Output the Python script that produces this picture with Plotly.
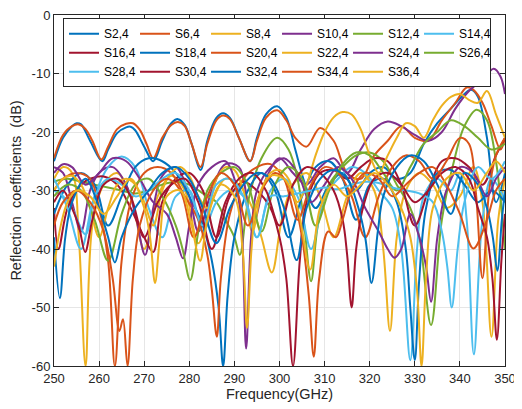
import plotly.graph_objects as go

# ---------------- data ----------------
names = ["S2,4", "S6,4", "S8,4", "S10,4", "S12,4", "S14,4", "S16,4", "S18,4", "S20,4",
         "S22,4", "S24,4", "S26,4", "S28,4", "S30,4", "S32,4", "S34,4", "S36,4"]

x_ticks = [250, 260, 270, 280, 290, 300, 310, 320, 330, 340, 350]
y_ticks = [0, -10, -20, -30, -40, -50, -60]

f_S2_4 = [250, 252, 254, 255, 256, 258, 260.7, 262, 264, 266, 267, 268, 270, 272, 274, 276, 277.5, 279, 280.5, 282.5, 284, 286, 287.5, 289, 291, 293.5, 295, 297, 299.5, 301.5, 303.5, 305.5, 308, 311, 314, 317, 320, 323, 326, 329, 332, 335, 338, 341, 342.5, 344, 346, 348, 350]
r_S2_4 = [-25, -21, -19, -18.5, -18.7, -21.5, -25, -23, -20.2, -19.2, -19.1, -19.7, -22.5, -25, -21.5, -18.5, -17.8, -18.8, -22, -26.5, -21.5, -17.6, -16.8, -17.6, -21, -25, -21, -17, -15.6, -17.5, -23, -28.5, -33, -29, -27, -30, -27, -26, -28, -27, -22, -18.5, -16, -13.5, -12.8, -14, -21, -32, -27]

f_S6_4 = [250, 252, 254, 255.5, 257, 258.5, 260.5, 262, 264, 266, 267.5, 269, 270.5, 272, 274, 276, 277.5, 279, 280.5, 282.5, 284, 286, 287.5, 289, 291, 293.5, 295, 297, 299.5, 301.5, 303.5, 306, 309, 312, 315, 318, 321, 324, 327, 330, 333, 336, 339, 341.5, 343, 345, 347, 349, 350]
r_S6_4 = [-24.5, -20.5, -19, -18.7, -19.5, -21.5, -24.7, -22.5, -19.5, -18.6, -18.5, -19.6, -22, -24.5, -21, -18.8, -18.3, -19, -22, -26, -22, -18, -17.2, -17.8, -21, -25, -21.5, -17.6, -16.3, -18, -21, -22.5, -19.3, -21.5, -27, -28, -24, -21.5, -19, -21, -21.5, -18, -15, -12.4, -12.8, -15, -19, -23, -21]

f_S8_4 = [250, 252, 254, 255.5, 257, 258.5, 261, 264, 267, 270, 273, 276, 279, 282, 285, 288, 291, 294, 296, 298.3, 300.5, 303, 306, 309, 312, 315, 318, 321, 323, 324.5, 326, 328, 331, 334, 337, 340, 343, 345, 347, 348.5, 350]
r_S8_4 = [-28, -26, -27, -38, -60, -36, -29, -27, -31, -40, -31, -27.5, -30, -39, -32, -28, -29, -33, -38, -44, -35, -29, -27, -31, -38, -31, -27, -30, -40, -54, -38, -30, -27, -29, -33, -31, -26, -32, -55, -35, -28]

f_S10_4 = [250, 252, 254, 256, 258, 260, 263, 266, 268, 270.2, 272, 274, 277, 280, 282, 285, 288, 291, 294, 297, 300, 303, 306, 309, 312, 315, 318, 321, 324, 327, 330, 333, 336, 339, 342, 345, 347.5, 349, 350]
r_S10_4 = [-26, -27, -32, -37, -30, -27, -26, -29, -34, -41, -33, -27.5, -26, -31, -37, -30, -25.5, -26, -36, -28, -24.5, -27, -29, -26, -24.5, -27, -23, -19.5, -18.2, -19, -20.5, -21.5, -20, -16, -13, -11, -9.2, -10.5, -13.5]

f_S12_4 = [250, 253, 256, 259, 262, 265, 268, 271, 274, 277, 280, 283, 286, 288, 290, 291.2, 293, 296, 299.5, 302, 304, 305.5, 307, 308.5, 311, 314, 317, 320, 323, 326, 329, 331, 333.6, 336, 339, 341, 343.7, 346, 348, 350]
r_S12_4 = [-28.5, -28, -28.5, -29, -29.5, -30, -30.5, -30, -29, -28.5, -29, -30.5, -32, -35, -38, -41, -32, -24.5, -21, -23, -28, -36, -45.5, -36, -29, -26, -24, -23.5, -25, -29, -33, -38, -53, -35, -24, -19, -16.2, -18, -25, -40]

f_S14_4 = [250, 252, 254, 257, 259, 262, 265, 268, 271, 274, 277, 280, 283, 286, 289, 292, 295, 298, 301, 304, 307, 310, 313, 316, 319, 322, 325, 327, 329, 330.5, 332, 335, 338, 340, 341.5, 343.1, 345, 347, 349, 350]
r_S14_4 = [-30, -31, -33, -37.5, -31, -26, -24.2, -26, -33, -38, -31, -30, -37, -32, -30, -31, -38, -30, -28, -31, -40, -31, -28, -26, -27, -30, -33, -40, -59, -40, -31, -28, -30, -27, -35, -58, -35, -28, -30, -32]

f_S16_4 = [250, 251, 253, 256, 258, 261, 264, 267, 270, 272, 274, 277, 280, 283, 286, 289, 292, 295, 298, 300, 301.5, 303, 304.5, 306, 309, 312, 315, 318, 321, 324, 327, 330, 333, 336, 339, 342, 345, 348, 350]
r_S16_4 = [-33, -40, -33, -29, -28, -27.6, -29, -33, -38, -40.5, -32, -28, -27, -30, -38, -31, -28.5, -30, -33, -38, -45, -60, -42, -32, -27, -26.5, -28, -26, -24.5, -25, -29, -36, -30, -25, -24.5, -26, -29, -24, -21]

f_S18_4 = [250, 253, 256, 259, 262, 265, 268, 271, 274, 277, 280, 283, 285, 286.5, 287.5, 288.5, 290, 293, 296, 299, 302, 305, 308, 311, 314, 317, 320, 323, 326, 328, 329, 330, 331, 332.5, 335, 338, 341, 344, 347, 350]
r_S18_4 = [-34, -29, -27, -29, -36, -31, -26, -24.5, -25, -27, -31, -36, -42, -50, -60, -48, -38, -30, -27, -30, -38, -31, -26, -25, -28, -35, -29, -28, -32, -40, -50, -59, -45, -33, -27, -26.5, -29, -32, -30, -32]

f_S20_4 = [250, 252, 255, 258, 260, 262, 263.5, 265, 267, 270, 273, 276, 279, 282, 284, 285, 286.1, 287, 289, 292, 295, 298, 301, 304, 307, 310, 313, 316, 319, 322, 325, 328, 331, 334, 337, 340, 342, 343.5, 345, 346.5, 348, 350]
r_S20_4 = [-30, -28, -27, -28, -33, -42, -60, -42, -32, -27, -26, -27, -31, -35, -41, -47, -55, -45, -34, -28, -26, -25.5, -28, -35, -29, -26, -27, -31, -38, -31, -26, -24, -25, -28, -25, -21, -22, -30, -45, -30, -24, -21]

f_S22_4 = [250, 252, 254, 256, 258, 260, 262, 264, 266, 268, 270, 272, 274, 276, 278, 280, 282, 284, 286, 288, 290, 292, 294, 296, 298, 300, 302, 304, 306, 308, 310, 312, 314, 316, 318, 320, 322, 324, 326, 328, 330, 332, 334, 336, 338, 340, 342, 344, 346, 348, 350]
r_S22_4 = [-30, -28, -27.5, -29, -33, -38, -33, -29, -28, -29, -32, -36, -30, -27, -26, -27.5, -31, -33, -28, -26, -26.5, -30, -37, -30, -27, -26.5, -28, -32, -29, -24, -20, -17.5, -16.6, -17, -19.5, -24, -27, -24, -21, -18.5, -19, -21, -18, -15.5, -14, -13.5, -14.5, -15, -13, -17, -21]

f_S24_4 = [250, 252, 254, 257, 260, 263, 266, 269, 272, 275, 277, 278.6, 280, 282, 285, 288, 290, 291.5, 292.6, 293.7, 295, 298, 301, 304, 307, 310, 313, 316, 319, 322, 324, 325.5, 327, 329, 331, 332.5, 333.6, 335, 337, 340, 343, 346, 348, 350]
r_S24_4 = [-27, -25.5, -26, -29, -27, -24.5, -25, -28, -32, -34, -38, -41.6, -36, -29, -26, -25, -28, -35, -57, -38, -30, -26, -24.5, -27, -32, -29, -26, -28, -33, -37, -40, -41.5, -40, -34, -38, -43, -49, -38, -30, -26, -27, -31, -28, -26]

f_S26_4 = [250, 253, 256, 259, 262, 265, 268, 271, 274, 277, 278.5, 280.2, 282, 284, 287, 290, 293, 296, 299, 302, 305, 308, 311, 314, 317, 320, 323, 326, 329, 332, 335, 338, 341, 344, 347, 350]
r_S26_4 = [-31, -29, -30, -35, -42, -34, -29, -28, -31, -36, -40, -45.3, -37, -30, -27, -26, -29, -37, -29, -26, -28, -36, -30, -25.5, -23.5, -24, -27, -30, -26, -22, -20, -18, -19, -21, -23, -22]

f_S28_4 = [250, 253, 256, 259, 262, 265, 268, 271, 274, 277, 280, 283, 286, 289, 292, 295, 298, 301, 304, 307, 310, 313, 316, 319, 322, 325, 328, 331, 334, 336, 337.2, 338.2, 339.5, 341, 344, 347, 350]
r_S28_4 = [-28, -33, -40, -31, -28, -29, -31, -30, -28, -27, -30, -36, -29, -28, -31, -38, -31, -31, -30.5, -30, -29.5, -29.8, -29, -28.5, -28.7, -29.5, -30, -30.5, -32, -37, -43, -50, -40, -32, -26, -28, -25]

f_S30_4 = [250, 252, 254, 255.5, 256.9, 258.5, 261, 264, 267, 270, 273, 276, 279, 282, 285, 288, 291, 294, 297, 300, 303, 306, 309, 312, 314, 315, 316, 317, 318.5, 321, 324, 327, 330, 333, 336, 339, 342, 344, 346, 347.2, 348.2, 349.2, 350]
r_S30_4 = [-32, -30, -33, -36, -40.5, -35, -29, -28, -31, -38, -32, -29, -28, -32, -40, -32, -28, -27, -30, -36, -29, -26, -27, -30, -35, -41, -50, -40, -33, -28, -27, -29, -32, -30, -27, -26, -28, -33, -38, -45, -55.5, -42, -34]

f_S32_4 = [250, 251.3, 252.5, 254, 257, 260, 262, 263.5, 265, 268, 271, 274, 277, 280, 283, 286, 289, 292, 295, 298, 301, 303.8, 306, 309, 312, 315, 317.5, 319, 320.4, 321.8, 323, 326, 329, 332, 335, 338, 341, 344, 346, 347.3, 348.3, 349.3, 350]
r_S32_4 = [-38, -48.4, -38, -32, -28, -33, -38, -42.3, -38, -33, -30, -27, -26, -28, -33, -39, -33, -29, -27, -28, -33, -41.9, -33, -28, -26.5, -28, -33, -38, -45.8, -37, -31, -26, -24, -25, -29, -34, -27, -29, -33, -38, -43.7, -35, -30]

f_S34_4 = [250, 252, 255, 258, 261, 263, 264.5, 265.3, 266.3, 267.5, 269, 272, 275, 278, 281, 284, 287, 290, 293, 296, 299, 301, 303, 305, 306.5, 307.6, 308.8, 310.8, 312.5, 314, 316, 319, 322, 325, 328, 331, 334, 337, 340, 343, 346, 348, 350]
r_S34_4 = [-36, -32, -30, -32, -37, -45, -54, -52, -60, -45, -36, -30, -28, -30, -38, -31, -27, -29, -36, -30, -27, -28, -31, -38, -48, -58.4, -45, -37, -38, -35, -30, -27, -28, -31, -29, -27, -26, -29, -34, -39.9, -35, -30, -28]

f_S36_4 = [250, 251.5, 253, 255, 258, 261, 264, 267, 270, 271.3, 272.4, 273.5, 275, 278, 280.5, 282.4, 284, 287, 290, 291.8, 292.8, 293.8, 295, 298, 301, 304, 306.8, 309, 312, 315, 318, 321, 324, 327, 329, 330.5, 331.5, 332.5, 334, 337, 340, 343, 346, 348, 350]
r_S36_4 = [-43, -36, -32, -30, -31, -34, -31, -28, -33, -38, -45.8, -38, -31, -30, -36, -42, -35, -29, -31, -40, -53.5, -40, -32, -27.5, -28, -33, -43.5, -33, -29, -31, -29, -27, -29, -33, -38, -47, -60, -45, -33, -28, -27, -30, -27, -25, -27]

freqs = [f_S2_4, f_S6_4, f_S8_4, f_S10_4, f_S12_4, f_S14_4, f_S16_4, f_S18_4, f_S20_4,
         f_S22_4, f_S24_4, f_S26_4, f_S28_4, f_S30_4, f_S32_4, f_S34_4, f_S36_4]
refl = [r_S2_4, r_S6_4, r_S8_4, r_S10_4, r_S12_4, r_S14_4, r_S16_4, r_S18_4, r_S20_4,
        r_S22_4, r_S24_4, r_S26_4, r_S28_4, r_S30_4, r_S32_4, r_S34_4, r_S36_4]

# MATLAB default colour order
palette = ["#0072BD", "#D95319", "#EDB120", "#7E2F8E", "#77AC30", "#4DBEEE", "#A2142F"]

fig = go.Figure()
for i, (nm, fx, ry) in enumerate(zip(names, freqs, refl)):
    fig.add_trace(go.Scatter(
        x=fx, y=ry, name=nm, mode="lines",
        line=dict(color=palette[i % 7], width=2, shape="spline", smoothing=1.0),
        cliponaxis=True,
    ))

axis_common = dict(
    showline=True, linecolor="#262626", linewidth=1, mirror="allticks",
    ticks="inside", ticklen=5, tickcolor="#262626", tickwidth=1,
    showgrid=True, gridcolor="#E6E6E6", gridwidth=1, zeroline=False,
    automargin=False, ticklabeloverflow="allow",
    tickfont=dict(family="Liberation Sans, Arial, sans-serif", size=13, color="#262626"),
)

# the page body has an 8px margin, so the figure is 8px smaller and offset accordingly
fig.update_layout(
    width=514, height=401,
    margin=dict(l=46, r=17, t=7, b=43, autoexpand=False),
    paper_bgcolor="white", plot_bgcolor="white",
    font=dict(family="Liberation Sans, Arial, sans-serif", color="#262626"),
    xaxis=dict(range=[250, 350], tickvals=x_ticks, ticktext=[str(v) for v in x_ticks],
               title=dict(text="Frequency(GHz)", font=dict(size=14.5), standoff=4),
               **axis_common),
    yaxis=dict(range=[-60, 0], tickvals=y_ticks, ticktext=[str(v) for v in y_ticks],
               title=dict(text="Reflection\u00a0\u00a0coefficients\u00a0\u00a0(dB)", font=dict(size=14.5), standoff=6),
               **axis_common),
    showlegend=True,
    legend=dict(
        orientation="h", x=0.02, y=0.991, xanchor="left", yanchor="top",
        bgcolor="white", bordercolor="#262626", borderwidth=1,
        font=dict(size=12, color="#000000"),
        entrywidth=26, entrywidthmode="pixels", itemwidth=30,
        tracegroupgap=0,
    ),
)

fig.write_html("out.html")
